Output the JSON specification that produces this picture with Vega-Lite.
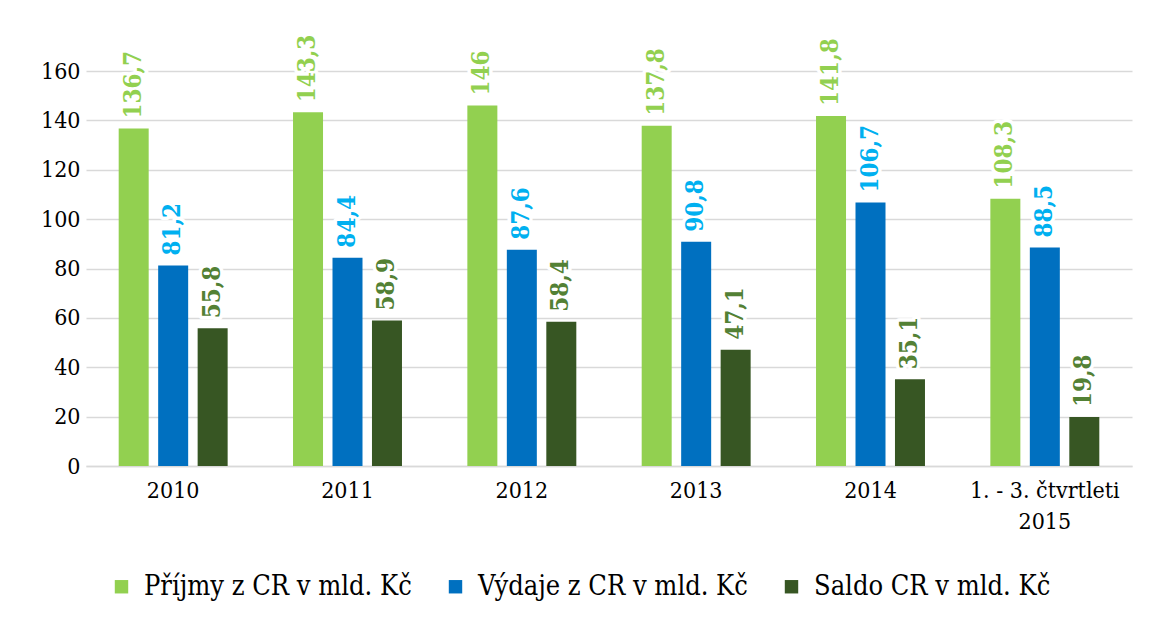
{
  "$schema": "https://vega.github.io/schema/vega-lite/v6.json",
  "autosize": "none",
  "width": 1046,
  "height": 395,
  "padding": {"left": 86, "top": 71, "right": 17, "bottom": 152},
  "background": "white",
  "config": {
    "view": {"stroke": null},
    "locale": {"number": {"decimal": ",", "thousands": " ", "grouping": [3], "currency": ["", " Kč"]}},
    "font": "DejaVu Serif Condensed"
  },
  "data": {
    "values": [
      {"obdobi": "2010", "serie": "Příjmy z CR v mld. Kč", "hodnota": 136.7},
      {"obdobi": "2010", "serie": "Výdaje z CR v mld. Kč", "hodnota": 81.2},
      {"obdobi": "2010", "serie": "Saldo CR v mld. Kč", "hodnota": 55.8},
      {"obdobi": "2011", "serie": "Příjmy z CR v mld. Kč", "hodnota": 143.3},
      {"obdobi": "2011", "serie": "Výdaje z CR v mld. Kč", "hodnota": 84.4},
      {"obdobi": "2011", "serie": "Saldo CR v mld. Kč", "hodnota": 58.9},
      {"obdobi": "2012", "serie": "Příjmy z CR v mld. Kč", "hodnota": 146},
      {"obdobi": "2012", "serie": "Výdaje z CR v mld. Kč", "hodnota": 87.6},
      {"obdobi": "2012", "serie": "Saldo CR v mld. Kč", "hodnota": 58.4},
      {"obdobi": "2013", "serie": "Příjmy z CR v mld. Kč", "hodnota": 137.8},
      {"obdobi": "2013", "serie": "Výdaje z CR v mld. Kč", "hodnota": 90.8},
      {"obdobi": "2013", "serie": "Saldo CR v mld. Kč", "hodnota": 47.1},
      {"obdobi": "2014", "serie": "Příjmy z CR v mld. Kč", "hodnota": 141.8},
      {"obdobi": "2014", "serie": "Výdaje z CR v mld. Kč", "hodnota": 106.7},
      {"obdobi": "2014", "serie": "Saldo CR v mld. Kč", "hodnota": 35.1},
      {"obdobi": "1. - 3. čtvrtleti 2015", "serie": "Příjmy z CR v mld. Kč", "hodnota": 108.3},
      {"obdobi": "1. - 3. čtvrtleti 2015", "serie": "Výdaje z CR v mld. Kč", "hodnota": 88.5},
      {"obdobi": "1. - 3. čtvrtleti 2015", "serie": "Saldo CR v mld. Kč", "hodnota": 19.8}
    ]
  },
  "encoding": {
    "x": {
      "field": "obdobi", "type": "nominal", "sort": null,
      "scale": {"paddingInner": 0.375, "paddingOuter": 0.1875},
      "axis": {
        "title": null, "labelAngle": 0, "ticks": false,
        "domainColor": "#d9d9d9", "domainWidth": 1.5,
        "labelFont": "DejaVu Serif Condensed", "labelFontSize": 23, "labelColor": "#000000",
        "labelPadding": 13, "labelLineHeight": 31,
        "labelExpr": "datum.value == '1. - 3. čtvrtleti 2015' ? ['1. - 3. čtvrtleti', '2015'] : datum.value"
      }
    },
    "xOffset": {
      "field": "serie", "type": "nominal",
      "sort": ["Příjmy z CR v mld. Kč", "Výdaje z CR v mld. Kč", "Saldo CR v mld. Kč"],
      "scale": {"paddingInner": 0.24, "paddingOuter": 0}
    },
    "y": {
      "field": "hodnota", "type": "quantitative",
      "scale": {"domain": [0, 160], "nice": false},
      "axis": {
        "title": null, "values": [0, 20, 40, 60, 80, 100, 120, 140, 160],
        "ticks": false, "domain": false,
        "gridColor": "#d9d9d9", "gridWidth": 1.5,
        "labelFont": "DejaVu Serif Condensed", "labelFontSize": 23, "labelColor": "#000000",
        "labelPadding": 6
      }
    }
  },
  "layer": [
    {
      "mark": {"type": "bar"},
      "encoding": {
        "color": {
          "field": "serie", "type": "nominal",
          "scale": {
            "domain": ["Příjmy z CR v mld. Kč", "Výdaje z CR v mld. Kč", "Saldo CR v mld. Kč"],
            "range": ["#92D050", "#0070C0", "#375623"]
          },
          "legend": {
            "title": null, "orient": "none", "direction": "horizontal",
            "legendX": 22, "legendY": 502,
            "symbolType": "square", "symbolSize": 180, "symbolStrokeWidth": 0,
            "labelFont": "DejaVu Serif Condensed", "labelFontSize": 27, "labelColor": "#000000",
            "labelOffset": 9, "columnPadding": 30, "labelLimit": 400
          }
        }
      }
    },
    {
      "mark": {"type": "text", "angle": 270, "align": "left", "baseline": "middle", "dx": 10,
               "font": "DejaVu Serif Condensed", "fontSize": 24, "fontWeight": "bold",
               "fill": "white", "stroke": "white", "strokeWidth": 7, "strokeJoin": "round"},
      "encoding": {
        "text": {"field": "hodnota", "type": "quantitative", "format": ".1~f"}
      }
    },
    {
      "mark": {"type": "text", "angle": 270, "align": "left", "baseline": "middle", "dx": 10,
               "font": "DejaVu Serif Condensed", "fontSize": 24, "fontWeight": "bold"},
      "encoding": {
        "text": {"field": "hodnota", "type": "quantitative", "format": ".1~f"},
        "color": {
          "field": "serie", "type": "nominal",
          "scale": {
            "domain": ["Příjmy z CR v mld. Kč", "Výdaje z CR v mld. Kč", "Saldo CR v mld. Kč"],
            "range": ["#92D050", "#00B0F0", "#538135"]
          },
          "legend": null
        }
      }
    }
  ],
  "resolve": {"scale": {"color": "independent"}}
}
